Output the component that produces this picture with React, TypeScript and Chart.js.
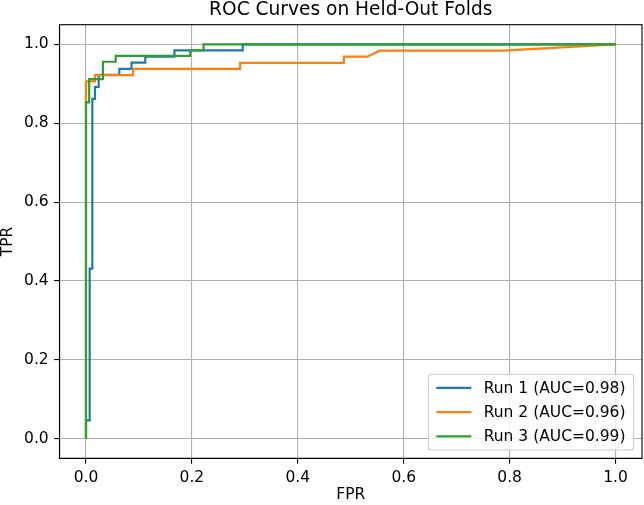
import { useEffect, useRef } from 'react';
import { Chart, registerables } from 'chart.js';

Chart.register(...registerables);

// ROC points (false positive rate / true positive rate) for each run
const run1Fpr = [0, 0, 0.007, 0.007, 0.012, 0.012, 0.017, 0.017, 0.024, 0.024, 0.063, 0.063, 0.086, 0.086, 0.112, 0.112, 0.167, 0.167, 0.296, 0.296, 1];
const run1Tpr = [0, 0.046, 0.046, 0.431, 0.431, 0.862, 0.862, 0.892, 0.892, 0.923, 0.923, 0.938, 0.938, 0.954, 0.954, 0.969, 0.969, 0.985, 0.985, 1, 1];

const run2Fpr = [0, 0, 0.017, 0.017, 0.089, 0.089, 0.291, 0.291, 0.487, 0.487, 0.531, 0.555, 0.788, 1];
const run2Tpr = [0, 0.906, 0.906, 0.922, 0.922, 0.938, 0.938, 0.953, 0.953, 0.969, 0.969, 0.984, 0.984, 1];

const run3Fpr = [0, 0, 0.006, 0.006, 0.032, 0.032, 0.056, 0.056, 0.197, 0.197, 0.222, 0.222, 1];
const run3Tpr = [0, 0.853, 0.853, 0.912, 0.912, 0.956, 0.956, 0.971, 0.971, 0.985, 0.985, 1, 1];

const runNames = ['Run 1', 'Run 2', 'Run 3'];
const aucValues = [0.98, 0.96, 0.99];
const runColors = ['#1f77b4', '#ff7f0e', '#2ca02c'];
const tickValues = [0, 0.2, 0.4, 0.6, 0.8, 1.0];

const FONT = '"DejaVu Sans", sans-serif';
const TICK_SIZE = 15.5;

const toPoints = (xs: number[], ys: number[]) => xs.map((x, i) => ({ x, y: ys[i] }));

// Full box around the plotting area
const framePlugin = {
  id: 'frame',
  afterDatasetsDraw(chart: any) {
    const { ctx, chartArea: a } = chart;
    ctx.save();
    ctx.strokeStyle = '#000';
    ctx.lineWidth = 1.1;
    ctx.strokeRect(a.left, a.top, a.right - a.left, a.bottom - a.top);
    ctx.restore();
  },
};

// Legend drawn inside the lower-right corner of the plotting area
const innerLegendPlugin = {
  id: 'innerLegend',
  afterDraw(chart: any) {
    const { ctx, chartArea: a } = chart;
    const items = chart.data.datasets.map((d: any) => ({ text: d.label, color: d.borderColor }));
    ctx.save();
    ctx.font = `${TICK_SIZE}px ${FONT}`;
    const textW = Math.max(...items.map((it: any) => ctx.measureText(it.text).width));
    const padX = 8;
    const handle = 35;
    const gap = 12.4;
    const rowH = 24.3;
    const padY = 13.6;
    const w = padX + handle + gap + textW + padX;
    const h = padY * 2 + rowH * (items.length - 1);
    const right = a.right - 8.5;
    const bottom = a.bottom - 8.3;
    const left = right - w;
    const top = bottom - h;
    ctx.beginPath();
    ctx.roundRect(left, top, w, h, 3);
    ctx.fillStyle = 'rgba(255,255,255,0.8)';
    ctx.fill();
    ctx.strokeStyle = '#cccccc';
    ctx.lineWidth = 1.1;
    ctx.stroke();
    items.forEach((it: any, i: number) => {
      const cy = top + padY + i * rowH;
      ctx.beginPath();
      ctx.moveTo(left + padX, cy);
      ctx.lineTo(left + padX + handle, cy);
      ctx.strokeStyle = it.color;
      ctx.lineWidth = 2.2;
      ctx.stroke();
      ctx.fillStyle = '#000';
      ctx.textBaseline = 'middle';
      ctx.textAlign = 'left';
      ctx.fillText(it.text, left + padX + handle + gap, cy + 1);
    });
    ctx.restore();
  },
};

export default function App() {
  const canvasRef = useRef<HTMLCanvasElement | null>(null);

  useEffect(() => {
    if (!canvasRef.current) return;
    const series = [
      toPoints(run1Fpr, run1Tpr),
      toPoints(run2Fpr, run2Tpr),
      toPoints(run3Fpr, run3Tpr),
    ];
    const datasets = series.map((pts, i) => ({
      label: `${runNames[i]} (AUC=${aucValues[i].toFixed(2)})`,
      data: pts,
      showLine: true,
      borderColor: runColors[i],
      backgroundColor: runColors[i],
      borderWidth: 2.2,
      pointRadius: 0,
      pointHoverRadius: 0,
      tension: 0,
      fill: false,
      order: series.length - i,
    }));

    const tickFont = { family: FONT, size: TICK_SIZE };
    const gridOpts = { color: '#b0b0b0', lineWidth: 1.1, tickColor: '#000', tickLength: 5.4, tickWidth: 1.1 };

    const chart = new Chart(canvasRef.current, {
      type: 'scatter',
      data: { datasets },
      options: {
        responsive: false,
        animation: false,
        devicePixelRatio: 1,
        layout: { padding: { left: 0, right: 2, top: 0, bottom: 0 } },
        plugins: {
          legend: { display: false },
          tooltip: { enabled: false },
          title: {
            display: true,
            text: 'ROC Curves on Held-Out Folds',
            fullSize: false,
            color: '#000',
            font: { family: FONT, size: 18.6, weight: 'normal', lineHeight: 1 },
            padding: { top: 0.6, bottom: 5.5 },
          },
        },
        scales: {
          x: {
            type: 'linear',
            min: -0.05,
            max: 1.05,
            afterBuildTicks: (s: any) => {
              s.ticks = tickValues.map((v) => ({ value: v }));
            },
            afterFit: (s: any) => {
              s.height = 46.7;
            },
            grid: gridOpts,
            border: { color: '#000', width: 1.1 },
            ticks: {
              color: '#000',
              font: tickFont,
              padding: 5.4,
              maxRotation: 0,
              autoSkip: false,
              callback: (v: any) => Number(v).toFixed(1),
            },
            title: {
              display: true,
              text: 'FPR',
              color: '#000',
              font: { family: FONT, size: TICK_SIZE, lineHeight: 1 },
              padding: { top: 0, bottom: 2.3 },
            },
          },
          y: {
            type: 'linear',
            min: -0.05,
            max: 1.05,
            afterBuildTicks: (s: any) => {
              s.ticks = tickValues.map((v) => ({ value: v }));
            },
            afterFit: (s: any) => {
              s.width = 59.5;
            },
            grid: gridOpts,
            border: { color: '#000', width: 1.1 },
            ticks: {
              color: '#000',
              font: tickFont,
              padding: 5.4,
              autoSkip: false,
              callback: (v: any) => Number(v).toFixed(1),
            },
            title: {
              display: true,
              text: 'TPR',
              color: '#000',
              font: { family: FONT, size: TICK_SIZE, lineHeight: 1 },
              padding: { top: 0, bottom: 0 },
            },
          },
        },
      } as any,
      plugins: [framePlugin, innerLegendPlugin],
    });

    return () => chart.destroy();
  }, []);

  return (
    <div style={{ position: 'fixed', left: 0, top: 0, width: 644, height: 505, background: '#fff' }}>
      <canvas ref={canvasRef} width={644} height={505} style={{ width: 644, height: 505 }} />
    </div>
  );
}
